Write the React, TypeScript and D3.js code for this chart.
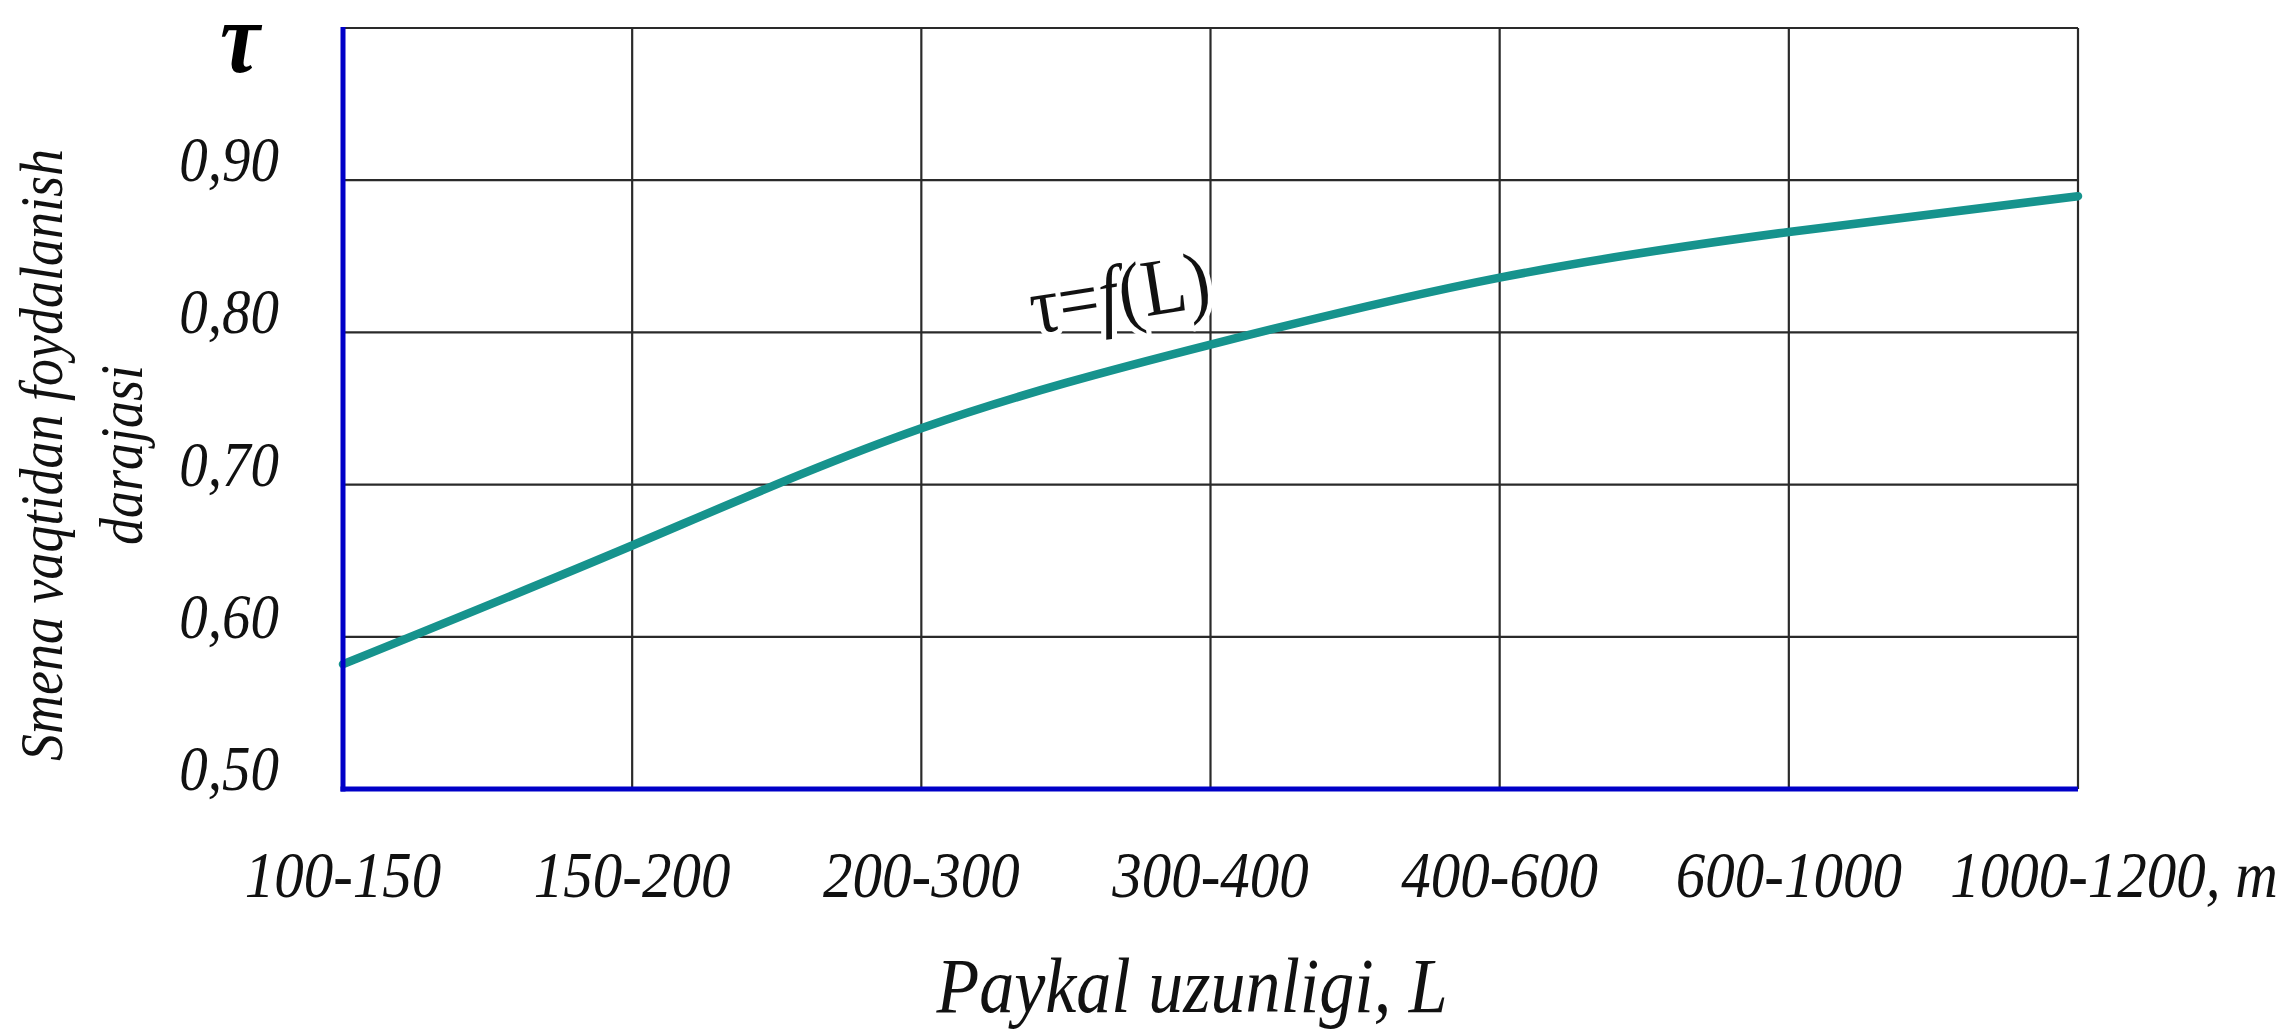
import React, { useEffect, useRef } from "react";
import * as d3 from "d3";

const categories = ["100-150", "150-200", "200-300", "300-400", "400-600", "600-1000", "1000-1200"];
const tauValues = [0.582, 0.66, 0.737, 0.792, 0.836, 0.866, 0.8895];
const yTicks = [0.5, 0.6, 0.7, 0.8, 0.9];
const yGrid = [0.6, 0.7, 0.8, 0.9, 1.0];
const yTickLabels = ["0,50", "0,60", "0,70", "0,80", "0,90"];
const lastUnit = ", m";
const xTitle = "Paykal uzunligi, L";
const yTitleLines = ["Smena vaqtidan foydalanish", "darajasi"];
const yAxisSymbol = "τ";

const W = 2285;
const H = 1029;
const FONT = "'Liberation Serif', 'Times New Roman', serif";
const SY = 1.12; // vertical stretch of the reference typography

export default function App() {
  const ref = useRef<SVGSVGElement | null>(null);

  useEffect(() => {
    const svg = d3.select(ref.current);
    svg.selectAll("*").remove();

    const x = d3.scalePoint<string>().domain(categories).range([343, 2078]);
    const y = d3.scaleLinear().domain([0.5, 1.0]).range([789, 28]);
    const [x0, x1] = x.range();

    svg.append("rect").attr("width", W).attr("height", H).attr("fill", "#fff");

    const grid = svg.append("g").attr("stroke", "#2a2a2a").attr("stroke-width", 2.2);
    grid.selectAll("line.h").data(yGrid).join("line")
      .attr("x1", x0).attr("x2", x1)
      .attr("y1", (d) => y(d)).attr("y2", (d) => y(d));
    grid.selectAll("line.v").data(categories.slice(1)).join("line")
      .attr("x1", (d) => x(d)!).attr("x2", (d) => x(d)!)
      .attr("y1", y(1.0)).attr("y2", y(0.5));

    // curve
    const line = d3.line<number>()
      .x((_, i) => x(categories[i])!)
      .y((d) => y(d))
      .curve(d3.curveNatural);
    svg.append("path").datum(tauValues)
      .attr("d", line)
      .attr("fill", "none")
      .attr("stroke", "#16938d")
      .attr("stroke-width", 8.5)
      .attr("stroke-linecap", "round");

    // axes (blue)
    const ax = svg.append("g").attr("stroke", "#0000c8").attr("stroke-width", 5);
    ax.append("line").attr("x1", x0).attr("x2", x0).attr("y1", y(1.0) - 1).attr("y2", y(0.5) + 2.5);
    ax.append("line").attr("x1", x0 - 2.5).attr("x2", x1).attr("y1", y(0.5)).attr("y2", y(0.5));

    const txt = (g: any, tx: number, ty: number, size: number, anchor: string, italic = true) =>
      g.append("text")
        .attr("transform", `translate(${tx},${ty}) scale(1,${SY})`)
        .attr("text-anchor", anchor)
        .attr("font-family", FONT)
        .attr("font-style", italic ? "italic" : "normal")
        .attr("font-size", size)
        .attr("fill", "#111");

    // y tick labels
    const yl = svg.append("g");
    yTicks.forEach((d, i) => {
      txt(yl, 279, y(d) + 1, 57, "end").text(yTickLabels[i]);
    });

    // x tick labels
    const xl = svg.append("g");
    categories.forEach((c, i) => {
      const t = txt(xl, x(c)!, 897, 59, "middle").text(c);
      if (i === categories.length - 1) {
        const w = (t.node() as SVGTextElement).getComputedTextLength();
        txt(xl, x(c)! + w / 2, 897, 59, "start")
          .attr("xml:space", "preserve")
          .style("white-space", "pre")
          .text(lastUnit);
      }
    });

    // x title
    txt(svg, 1192, 1012, 70, "middle").text(xTitle);

    // y title
    const yt = svg.append("text")
      .attr("transform", `translate(0,455) rotate(-90) scale(1,${SY})`)
      .attr("text-anchor", "middle")
      .attr("font-family", FONT).attr("font-style", "italic").attr("font-size", 54)
      .attr("fill", "#111");
    yt.append("tspan").attr("x", 0).attr("y", 62 / SY).text(yTitleLines[0]);
    yt.append("tspan").attr("x", 0).attr("y", 142 / SY).text(yTitleLines[1]);

    // tau symbol
    txt(svg, 240, 72, 90, "middle").attr("fill", "#000").attr("font-weight", "bold").text(yAxisSymbol);

    // curve label
    const lbl = svg.append("text")
      .attr("transform", `translate(1034,334) rotate(-9) scale(1,${SY})`)
      .attr("font-family", FONT).attr("font-size", 72)
      .attr("fill", "#111")
      .attr("stroke", "#fff").attr("stroke-width", 10)
      .attr("paint-order", "stroke")
      .attr("stroke-linejoin", "round");
    lbl.append("tspan").text("τ=");
    lbl.append("tspan").attr("font-style", "italic").text("f");
    lbl.append("tspan").text("(L)");
  }, []);

  return (
    <svg
      ref={ref}
      width={W}
      height={H}
      style={{ position: "absolute", left: 0, top: 0, display: "block" }}
    />
  );
}
